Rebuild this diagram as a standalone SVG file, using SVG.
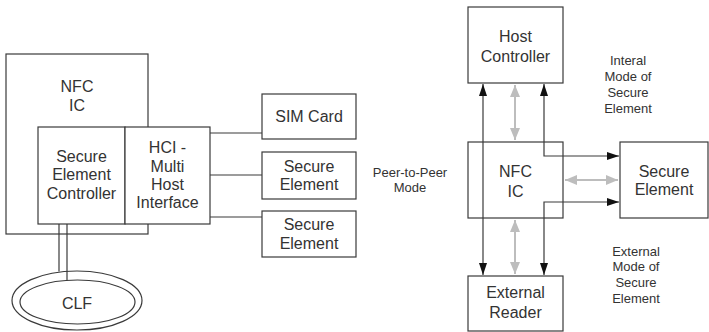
<svg xmlns="http://www.w3.org/2000/svg" width="709" height="332" viewBox="0 0 709 332">
<style>
.box{fill:#fff;stroke:#3a3a3a;stroke-width:1.2}
.ln{fill:none;stroke:#3a3a3a;stroke-width:1.2}
.gl{fill:none;stroke:#bdbdbd;stroke-width:2}
.t{font-family:"Liberation Sans",Arial,sans-serif;font-size:16px;fill:#333;text-anchor:middle}
.s{font-family:"Liberation Sans",Arial,sans-serif;font-size:13px;fill:#333;text-anchor:middle}
</style>
<defs>
<marker id="ab" markerUnits="userSpaceOnUse" markerWidth="12" markerHeight="8" refX="12" refY="4" orient="auto-start-reverse" viewBox="0 0 12 8"><path d="M0,0 L12,4 L0,8 Z" fill="#111"/></marker>
<marker id="ag" markerUnits="userSpaceOnUse" markerWidth="12" markerHeight="10" refX="12" refY="5" orient="auto-start-reverse" viewBox="0 0 12 10"><path d="M0,0 L12,5 L0,10 Z" fill="#bdbdbd"/></marker>
</defs>
<g id="nfc-ic-left">
<rect class="box" x="6" y="54" width="142" height="180"/>
<text class="t" x="77" y="92">NFC</text>
<text class="t" x="77" y="111">IC</text>
</g>
<g id="se-controller">
<rect class="box" x="38" y="127" width="87" height="97"/>
<text class="t" x="81.5" y="161.5">Secure</text>
<text class="t" x="81.5" y="180">Element</text>
<text class="t" x="81.5" y="199">Controller</text>
</g>
<g id="hci">
<rect class="box" x="125" y="127" width="85" height="97"/>
<text class="t" x="167.5" y="153">HCI -</text>
<text class="t" x="167.5" y="172">Multi</text>
<text class="t" x="167.5" y="190">Host</text>
<text class="t" x="167.5" y="208">Interface</text>
</g>
<g id="sim-card">
<rect class="box" x="262" y="94" width="94" height="45"/>
<text class="t" x="309" y="122">SIM Card</text>
</g>
<g id="se-1">
<rect class="box" x="262" y="152" width="94" height="47"/>
<text class="t" x="309" y="172">Secure</text>
<text class="t" x="309" y="190">Element</text>
</g>
<g id="se-2">
<rect class="box" x="262" y="211" width="94" height="46"/>
<text class="t" x="309" y="230">Secure</text>
<text class="t" x="309" y="249">Element</text>
</g>
<g id="clf">
<ellipse class="box" cx="77" cy="300.5" rx="65" ry="29.5"/>
<ellipse class="box" cx="77.5" cy="302" rx="57.5" ry="22"/>
<text class="t" x="77" y="309">CLF</text>
</g>
<g id="host-controller">
<rect class="box" x="468" y="7" width="95" height="76"/>
<text class="t" x="515.5" y="42">Host</text>
<text class="t" x="515.5" y="62">Controller</text>
</g>
<g id="nfc-ic-right">
<rect class="box" x="468" y="142" width="95" height="76"/>
<text class="t" x="515.5" y="177">NFC</text>
<text class="t" x="515.5" y="197">IC</text>
</g>
<g id="secure-element">
<rect class="box" x="620" y="142" width="88" height="76"/>
<text class="t" x="664" y="177">Secure</text>
<text class="t" x="664" y="195">Element</text>
</g>
<g id="external-reader">
<rect class="box" x="468" y="276" width="95" height="55"/>
<text class="t" x="515.5" y="298">External</text>
<text class="t" x="515.5" y="318">Reader</text>
</g>
<g id="labels">
<text class="s" x="410" y="177">Peer-to-Peer</text>
<text class="s" x="410" y="192">Mode</text>
<text class="s" x="628" y="65">Interal</text>
<text class="s" x="628" y="81">Mode of</text>
<text class="s" x="628" y="97">Secure</text>
<text class="s" x="628" y="113">Element</text>
<text class="s" x="636" y="256">External</text>
<text class="s" x="636" y="271">Mode of</text>
<text class="s" x="636" y="287">Secure</text>
<text class="s" x="636" y="303">Element</text>
</g>
<g id="connectors">
<line class="ln" x1="210" y1="133" x2="262" y2="133"/>
<line class="ln" x1="210" y1="175" x2="262" y2="175"/>
<line class="ln" x1="210" y1="217" x2="262" y2="217"/>
<line class="ln" x1="59" y1="224" x2="59" y2="271.5"/>
<line class="ln" x1="67" y1="224" x2="67" y2="280.2"/>
<line class="ln" x1="483" y1="84" x2="483" y2="275" marker-start="url(#ab)" marker-end="url(#ab)"/>
<path class="ln" d="M544,84 L544,156 L619,156" marker-start="url(#ab)" marker-end="url(#ab)"/>
<path class="ln" d="M619,202 L544,202 L544,275" marker-start="url(#ab)" marker-end="url(#ab)"/>
<line class="gl" x1="515" y1="85" x2="515" y2="140" marker-start="url(#ag)" marker-end="url(#ag)"/>
<line class="gl" x1="515" y1="220" x2="515" y2="274" marker-start="url(#ag)" marker-end="url(#ag)"/>
<line class="gl" x1="565" y1="180" x2="618" y2="180" marker-start="url(#ag)" marker-end="url(#ag)"/>
</g>
</svg>
